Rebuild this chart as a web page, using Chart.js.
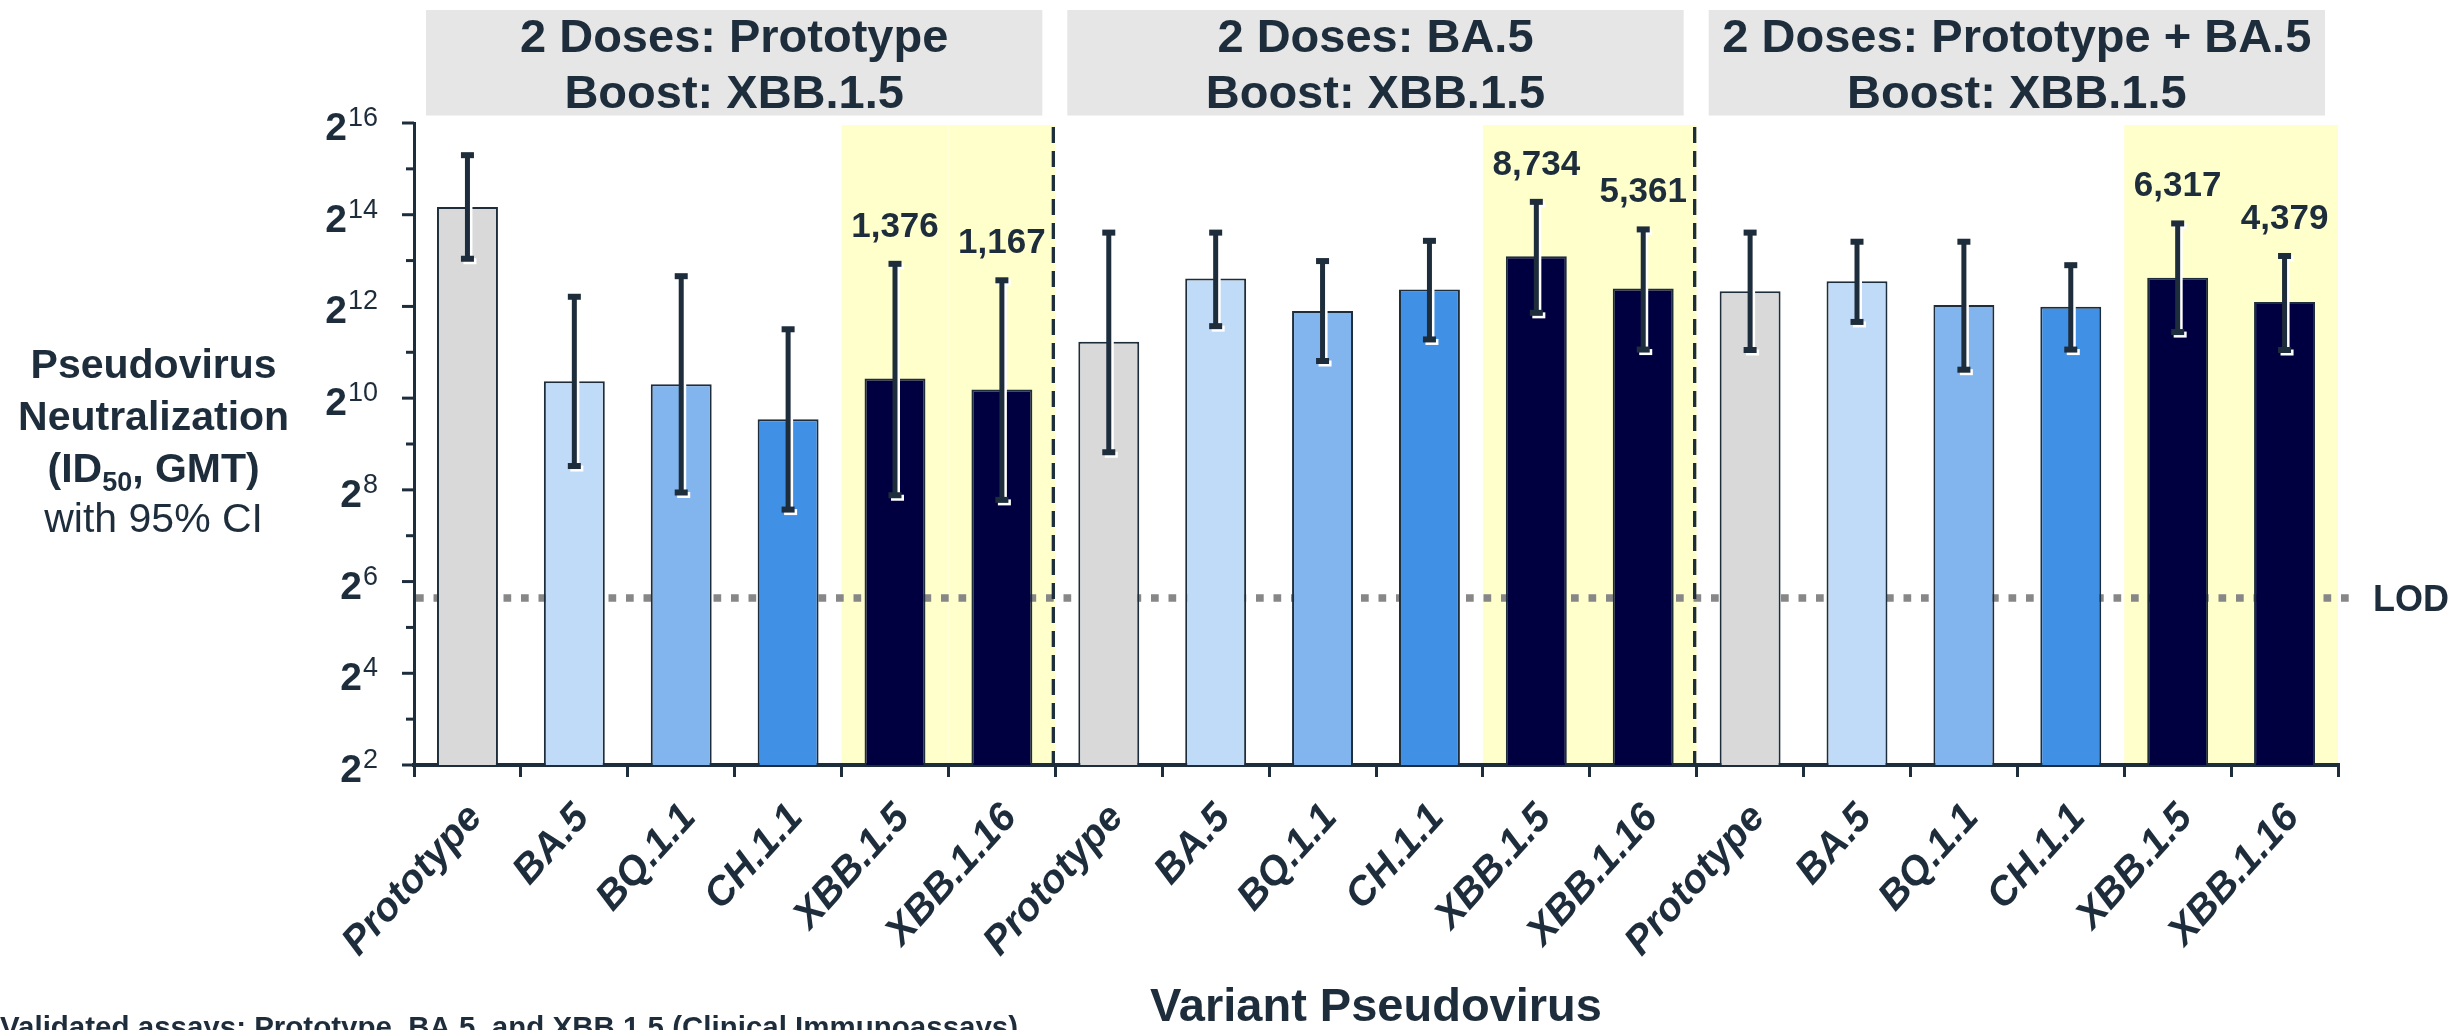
<!DOCTYPE html>
<html>
<head>
<meta charset="utf-8">
<script src="https://cdn.jsdelivr.net/npm/chart.js@4.4.0/dist/chart.umd.min.js"></script>
<style>
  html, body { margin: 0; padding: 0; background: #fff; }
  #wrap { width: 2453px; height: 1030px; }
</style>
</head>
<body>
<div id="wrap"><canvas id="chart" width="2453" height="1030"></canvas></div>
<script>
// values (ID50 GMT with 95% CI), one entry per bar
const variants = ['Prototype', 'BA.5', 'BQ.1.1', 'CH.1.1', 'XBB.1.5', 'XBB.1.16'];
const groupTitles = [
  ['2 Doses: Prototype', 'Boost: XBB.1.5'],
  ['2 Doses: BA.5', 'Boost: XBB.1.5'],
  ['2 Doses: Prototype + BA.5', 'Boost: XBB.1.5']
];
const gmt = [18400, 1323, 1261, 744, 1376, 1167,
             2400, 6250, 3820, 5290, 8734, 5361,
             5150, 5990, 4180, 4070, 6317, 4379];
const ciLow = [8420, 367, 246, 190, 236, 220,
               452, 3040, 1795, 2487, 3717, 2134,
               2120, 3240, 1574, 2134, 2780, 2120];
const ciHigh = [40300, 4740, 6470, 2900, 7800, 6080,
                12500, 12500, 8130, 11040, 19900, 13120,
                12500, 10890, 10890, 7640, 14360, 8780];
const highlighted = ['XBB.1.5', 'XBB.1.16'];
const variantColors = ['#d9d9d9', '#c0dbf7', '#82b4ee', '#4090e5', '#000040', '#000040'];
const yMajorExp = [2, 4, 6, 8, 10, 12, 14, 16];
const yMinorExp = [3, 5, 7, 9, 11, 13, 15];
const lod = 50;

const ink = '#1e2d3b';
const FONT = "'Liberation Sans', Arial, sans-serif";
const categories = groupTitles.flatMap(() => variants);

function whisker(ctx, x, yTop, yBot, color) {
  ctx.fillStyle = color;
  ctx.fillRect(x - 2.5, yTop, 5, yBot - yTop);
  ctx.fillRect(x - 6.5, yTop - 3, 13, 6);
  ctx.fillRect(x - 6.5, yBot - 3, 13, 6);
}

const decor = {
  id: 'decor',
  beforeDraw(chart) {
    const {ctx, chartArea: a, scales: {x}} = chart;
    const step = x.getPixelForValue(1) - x.getPixelForValue(0);
    ctx.save();
    ctx.fillStyle = '#fff';
    ctx.fillRect(0, 0, chart.width, chart.height);
    // yellow bands behind the XBB columns
    ctx.fillStyle = '#ffffcc';
    categories.forEach((c, i) => {
      if (highlighted.includes(c)) {
        const px = x.getPixelForValue(i);
        ctx.fillRect(px - step / 2, a.top + 2, step, a.bottom - a.top - 2);
      }
    });
    // group header boxes
    groupTitles.forEach((lines, g) => {
      const l = x.getPixelForValue(g * 6) - step / 2 + 12;
      const r = x.getPixelForValue(g * 6 + 5) + step / 2 - 13;
      ctx.fillStyle = '#e6e6e6';
      ctx.fillRect(l, 10, r - l, 105.5);
      ctx.fillStyle = ink;
      ctx.font = 'bold 47px ' + FONT;
      ctx.textAlign = 'center';
      ctx.textBaseline = 'alphabetic';
      ctx.fillText(lines[0], (l + r) / 2, 52);
      ctx.fillText(lines[1], (l + r) / 2, 108);
    });
    ctx.restore();
  },
  beforeDatasetsDraw(chart) {
    const {ctx, chartArea: a, scales: {x, y}} = chart;
    ctx.save();
    // LOD dotted line
    const yl = y.getPixelForValue(lod);
    ctx.strokeStyle = '#878787';
    ctx.lineWidth = 7.5;
    ctx.setLineDash([7.7, 9.8]);
    ctx.beginPath();
    ctx.moveTo(a.left + 2, yl);
    ctx.lineTo(a.right + 11, yl);
    ctx.stroke();
    // dashed dividers between groups
    ctx.strokeStyle = ink;
    ctx.lineWidth = 3.3;
    ctx.setLineDash([16, 8]);
    [1, 2].forEach(g => {
      const px = (x.getPixelForValue(g * 6 - 1) + x.getPixelForValue(g * 6)) / 2 - 2;
      ctx.beginPath();
      ctx.moveTo(px, a.top + 4);
      ctx.lineTo(px, a.bottom);
      ctx.stroke();
    });
    ctx.restore();
  },
  afterDatasetsDraw(chart) {
    const {ctx, scales: {y}} = chart;
    const meta = chart.getDatasetMeta(0);
    ctx.save();
    meta.data.forEach((bar, i) => {
      const yHi = y.getPixelForValue(ciHigh[i]);
      const yLo = y.getPixelForValue(ciLow[i]);
      whisker(ctx, bar.x + 2.5, yHi + 2.5, yLo + 2.5, '#fff');
      whisker(ctx, bar.x, yHi, yLo, ink);
      if (highlighted.includes(categories[i])) {
        ctx.fillStyle = ink;
        ctx.font = 'bold 35px ' + FONT;
        ctx.textAlign = 'center';
        ctx.textBaseline = 'alphabetic';
        ctx.fillText(gmt[i].toLocaleString('en-US'), bar.x, yHi - 27);
      }
    });
    ctx.restore();
  },
  afterDraw(chart) {
    const {ctx, chartArea: a, scales: {y}} = chart;
    ctx.save();
    ctx.fillStyle = ink;
    ctx.strokeStyle = ink;
    ctx.lineWidth = 3;
    // y tick marks
    yMajorExp.forEach(e => {
      const py = y.getPixelForValue(2 ** e);
      ctx.beginPath(); ctx.moveTo(a.left - 12, py); ctx.lineTo(a.left, py); ctx.stroke();
    });
    yMinorExp.forEach(e => {
      const py = y.getPixelForValue(2 ** e);
      ctx.beginPath(); ctx.moveTo(a.left - 8, py); ctx.lineTo(a.left, py); ctx.stroke();
    });
    // y tick labels as 2^n
    ctx.textBaseline = 'alphabetic';
    ctx.textAlign = 'right';
    const labelRight = a.left - 36;
    yMajorExp.forEach(e => {
      const py = y.getPixelForValue(2 ** e);
      ctx.font = '27px ' + FONT;
      const sup = String(e);
      const w = ctx.measureText(sup).width;
      ctx.fillText(sup, labelRight, py + 3);
      ctx.font = 'bold 39px ' + FONT;
      ctx.fillText('2', labelRight - w - 1, py + 17);
    });
    // y axis title
    const cx = 153.6;
    ctx.textAlign = 'center';
    ctx.font = 'bold 41px ' + FONT;
    ctx.fillText('Pseudovirus', cx, 378);
    ctx.fillText('Neutralization', cx, 430);
    const p1 = '(ID', p2 = '50', p3 = ', GMT)';
    ctx.font = 'bold 41px ' + FONT;
    const w1 = ctx.measureText(p1).width, w3 = ctx.measureText(p3).width;
    ctx.font = 'bold 27px ' + FONT;
    const w2 = ctx.measureText(p2).width;
    let sx = cx - (w1 + w2 + w3) / 2;
    ctx.textAlign = 'left';
    ctx.font = 'bold 41px ' + FONT;
    ctx.fillText(p1, sx, 482);
    ctx.font = 'bold 27px ' + FONT;
    ctx.fillText(p2, sx + w1, 491);
    ctx.font = 'bold 41px ' + FONT;
    ctx.fillText(p3, sx + w1 + w2, 482);
    ctx.textAlign = 'center';
    ctx.font = '41px ' + FONT;
    ctx.fillText('with 95% CI', cx, 532);
    // LOD label
    const yl = y.getPixelForValue(lod);
    ctx.textAlign = 'left';
    ctx.font = 'bold 36px ' + FONT;
    ctx.fillText('LOD', a.right + 35, yl + 13);
    // x axis title
    ctx.textAlign = 'center';
    ctx.font = 'bold 47px ' + FONT;
    ctx.fillText('Variant Pseudovirus', (a.left + a.right) / 2, 1021);
    // footnote, cut by the bottom edge as in the source
    ctx.textAlign = 'left';
    ctx.font = 'bold 29.5px ' + FONT;
    ctx.fillText('Validated assays: Prototype, BA.5, and XBB.1.5 (Clinical Immunoassays)', 0, 1037);
    ctx.restore();
  }
};

new Chart(document.getElementById('chart').getContext('2d'), {
  type: 'bar',
  data: {
    labels: categories,
    datasets: [{
      data: gmt,
      backgroundColor: categories.map(c => variantColors[variants.indexOf(c)]),
      borderColor: ink,
      borderWidth: 2,
      barPercentage: 0.57,
      categoryPercentage: 1
    }]
  },
  options: {
    responsive: false,
    animation: false,
    devicePixelRatio: 1,
    layout: { padding: { top: 123, right: 115, left: 0, bottom: 0 } },
    plugins: { legend: { display: false }, tooltip: { enabled: false } },
    scales: {
      x: {
        grid: { offset: true, drawOnChartArea: false, color: ink, lineWidth: 3, tickLength: 12 },
        border: { color: ink, width: 4 },
        ticks: {
          autoSkip: false,
          minRotation: 48,
          maxRotation: 48,
          padding: 18,
          labelOffset: 8,
          color: ink,
          font: { family: FONT, size: 40, weight: 'bold', style: 'italic' }
        },
        afterFit: s => { s.height = 265; }
      },
      y: {
        type: 'logarithmic',
        min: 4,
        max: 65536,
        grid: { display: true, drawOnChartArea: false, drawTicks: false },
        ticks: { display: false },
        border: { color: ink, width: 3 },
        afterFit: s => { s.width = 414; }
      }
    }
  },
  plugins: [decor]
});
</script>
</body>
</html>
